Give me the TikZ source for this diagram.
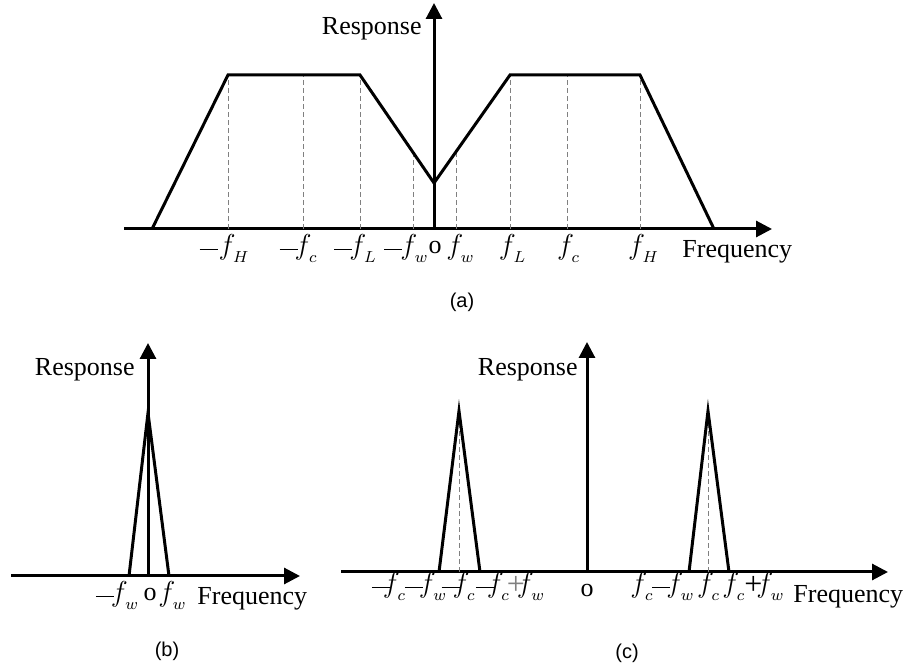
\documentclass[tikz,border=0pt]{standalone}
\usepackage{fontspec}
\setmainfont{Liberation Serif}
\setsansfont{Liberation Sans}
\usetikzlibrary{arrows.meta}
% frequency symbol with a low subscript, and a long minus
\newcommand{\fq}[1]{$f$\kern-1.2pt\raisebox{-4pt}{\fontsize{8.5}{9}\selectfont$#1$}}
\newcommand{\mns}{\rule[2.4pt]{9pt}{0.7pt}}
\newcommand{\pls}{\raisebox{-1pt}{\fontsize{16}{16}\selectfont+}}
\tikzset{
  axis/.style={line width=1.5pt,-{Triangle[length=8pt,width=8pt]}},
  resp/.style={line width=1.5pt,line join=miter},
  guide/.style={gray,line width=0.5pt,dash pattern=on 2.5pt off 1.5pt},
  lbl/.style={anchor=base,inner sep=0pt,font=\fontsize{14}{16}\selectfont},
  olbl/.style={anchor=base,inner sep=0pt,font=\fontsize{13}{15}\selectfont},
  axlbl/.style={inner sep=0pt,font=\fontsize{13}{15}\selectfont},
  subcap/.style={inner sep=0pt,font=\sffamily\fontsize{10}{12}\selectfont},
}

\begin{document}
\begin{tikzpicture}[x=0.5pt,y=-0.5pt]
  \useasboundingbox (0,0) rectangle (905,667);
  % (a) band-pass response
  \draw[axis] (124,229) -- (772,229);
  \draw[axis] (434,229) -- (434,3);
  \foreach \x/\y in {228/75,303/75,360/75,413/152,456/152,510/75,567/75,640/75}
    \draw[guide] (\x,229) -- (\x,\y);
  \draw[resp] (152,229) -- (228,75) -- (360,75) -- (434,183) -- (510,75) -- (640,75) -- (714,229);
  \node[axlbl,anchor=east] (aResp) at (422,29) {Response};
  \node[lbl] (aHm) at (224,255) {\mns\kern0.5pt\fq{H}};
  \node[lbl] (aCm) at (298,255) {\mns\kern-1.5pt\fq{c}};
  \node[lbl] (aLm) at (355,255) {\mns\kern-1.5pt\fq{L}};
  \node[lbl] (aWm) at (406,255) {\mns\kern-1pt\fq{w}};
  \node[olbl] (aO) at (435,254) {o};
  \node[lbl] (aW) at (460,255) {\fq{w}};
  \node[lbl] (aL) at (512,255) {\fq{L}};
  \node[lbl] (aC) at (568,255) {\fq{c}};
  \node[lbl] (aH) at (643,255) {\fq{H}};
  \node[axlbl,anchor=base west] (aFreq) at (682,258) {Frequency};
  \node[subcap] (aCap) at (462,302) {(a)};
  % (b) low-pass response
  \draw[axis] (11,576) -- (300,576);
  \draw[axis] (148,576) -- (148,343);
  \draw[resp] (129,576) -- (148,413) -- (169,576);
  \node[axlbl,anchor=east] (bResp) at (135,370) {Response};
  \node[lbl] (bWm) at (117,602) {\mns\kern-1.5pt\fq{w}};
  \node[olbl] (bO) at (150,601) {o};
  \node[lbl] (bW) at (172,602) {\fq{w}};
  \node[axlbl,anchor=base west] (bFreq) at (197,605) {Frequency};
  \node[subcap] (bCap) at (167,651) {(b)};
  % (c) shifted response
  \draw[axis] (341,572) -- (888,572);
  \draw[axis] (587,572) -- (587,342);
  \draw[guide] (459,572) -- (459,414);
  \draw[guide] (708,572) -- (708,414);
  \draw[resp] (439,572) -- (459,411) -- (480,572);
  \draw[resp] (689,572) -- (708,411) -- (729,572);
  \node[axlbl,anchor=east] (cResp) at (578,370) {Response};
  \node[lbl] (cLo) at (409,593) {\mns\kern-3.5pt\fq{c}\mns\kern-2pt\fq{w}};
  \node[lbl] (cCm) at (458,593) {\mns\kern-3.5pt\fq{c}};
  \node[lbl] (cHi) at (510,593) {\mns\kern-3.5pt\fq{c}\kern-1pt\textcolor{gray}{\pls}\kern-4pt\fq{w}};
  \node[olbl] (cO) at (587,597) {o};
  \node[lbl] (cLo2) at (662,593) {\fq{c}\mns\kern-2pt\fq{w}};
  \node[lbl] (cC) at (708,593) {\fq{c}};
  \node[lbl] (cHi2) at (753,593) {\fq{c}\pls\kern-3pt\fq{w}};
  \node[axlbl,anchor=base west] (cFreq) at (793,603) {Frequency};
  \node[subcap] (cCap) at (627,653) {(c)};
\end{tikzpicture}
\end{document}
